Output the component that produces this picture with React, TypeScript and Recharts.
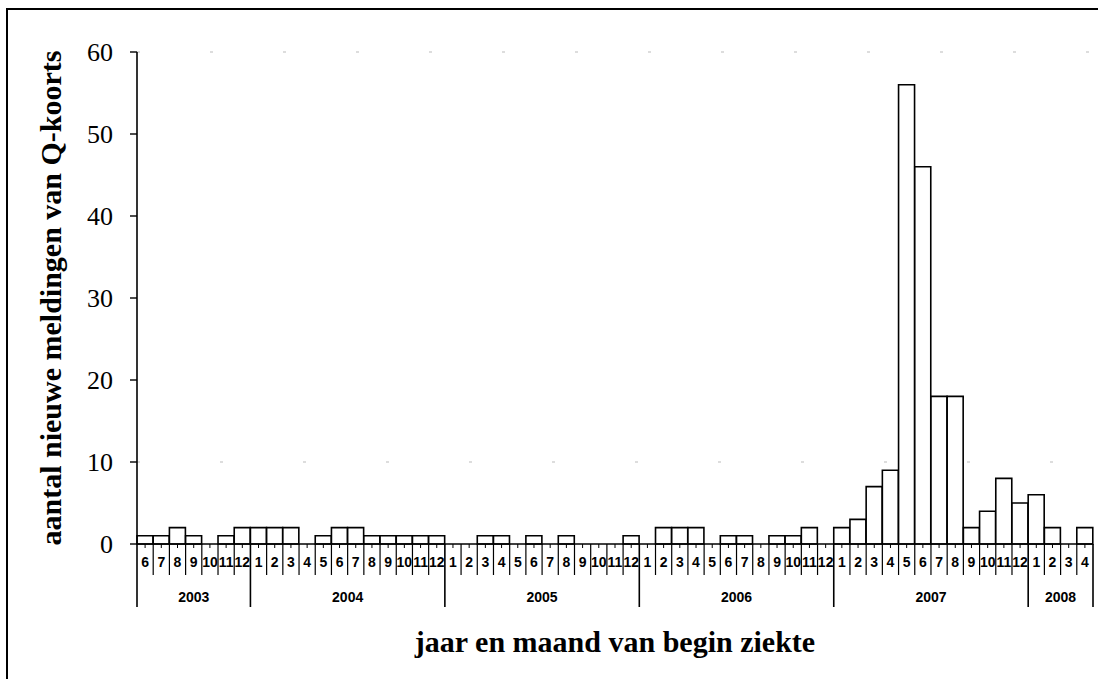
import { Bar, BarChart, Label, ReferenceLine, XAxis, YAxis } from "recharts"

const years = [2003, 2004, 2005, 2006, 2007, 2008]
const firstMonth = [6, 1, 1, 1, 1, 1]
const lastMonth = [12, 12, 12, 12, 12, 4]

const counts2003 = [1, 1, 2, 1, 0, 1, 2]
const counts2004 = [2, 2, 2, 0, 1, 2, 2, 1, 1, 1, 1, 1]
const counts2005 = [0, 0, 1, 1, 0, 1, 0, 1, 0, 0, 0, 1]
const counts2006 = [0, 2, 2, 2, 0, 1, 1, 0, 1, 1, 2, 0]
const counts2007 = [2, 3, 7, 9, 56, 46, 18, 18, 2, 4, 8, 5]
const counts2008 = [6, 2, 0, 2]
const countsByYear = [counts2003, counts2004, counts2005, counts2006, counts2007, counts2008]

const yTicks = [0, 10, 20, 30, 40, 50, 60]

const W = 1098
const H = 679
const AXIS_X = 137
const AXIS_Y = 544
const RIGHT = 5
const BOTTOM = 45
const BAND = (W - AXIS_X - RIGHT) / countsByYear.reduce((n, c) => n + c.length, 0)

interface MonthRow {
  key: string
  year: number
  month: number
  count: number
  first: boolean
  span: number
}

const data: MonthRow[] = years.flatMap((year, yi) =>
  countsByYear[yi].map((count, i) => ({
    key: `${year}-${firstMonth[yi] + i}`,
    year,
    month: firstMonth[yi] + i,
    count,
    first: i === 0,
    span: lastMonth[yi] - firstMonth[yi] + 1,
  }))
)
const byKey = new Map(data.map((d) => [d.key, d]))

const labelFont = "'Liberation Sans Narrow', 'Liberation Sans', Arial, sans-serif"
const serif = "'Liberation Serif', 'Times New Roman', serif"

function MonthTick(props: any) {
  const { x, payload } = props
  const d = byKey.get(payload.value)
  if (!d) return null
  const left = x - BAND / 2
  const isLast = d.key === data[data.length - 1].key
  return (
    <g>
      <line x1={x} x2={x} y1={AXIS_Y} y2={AXIS_Y + 4} stroke="#000" strokeWidth={1} />
      <line x1={left} x2={left} y1={AXIS_Y} y2={AXIS_Y + (d.first ? 63 : 31)} stroke="#000" strokeWidth={d.first ? 1.6 : 1.2} />
      {isLast && <line x1={x + BAND / 2} x2={x + BAND / 2} y1={AXIS_Y} y2={AXIS_Y + 63} stroke="#000" strokeWidth={1.6} />}
      <text x={x} y={AXIS_Y + 23} textAnchor="middle" fontSize={14} fontWeight="bold" fontFamily={labelFont} fill="#000">
        {d.month}
      </text>
      {d.first && (
        <text x={left + (d.span * BAND) / 2} y={AXIS_Y + 58} textAnchor="middle" fontSize={14} fontWeight="bold" fontFamily={labelFont} fill="#000">
          {d.year}
        </text>
      )}
    </g>
  )
}

export default function App() {
  return (
    <div style={{ position: "absolute", left: 0, top: 0, width: W, height: H, background: "#fff" }}>
      <div style={{ position: "absolute", left: 6, top: 8, right: 0, bottom: 0, borderLeft: "2px solid #000", borderTop: "2px solid #000" }} />
      <BarChart
        width={W}
        height={H}
        data={data}
        margin={{ top: 52, right: RIGHT, bottom: BOTTOM, left: 0 }}
        barCategoryGap={0}
        barGap={0}
        style={{ position: "absolute", left: 0, top: 0 }}
      >
        <ReferenceLine y={60} stroke="#bbb" strokeDasharray="3 70" />
        <ReferenceLine y={10} stroke="#bbb" strokeDasharray="3 80" />
        <XAxis
          dataKey="key"
          interval={0}
          height={H - BOTTOM - AXIS_Y}
          tickLine={false}
          axisLine={{ stroke: "#000", strokeWidth: 1.6 }}
          tick={<MonthTick />}
        >
          <Label
            content={() => (
              <text x={(AXIS_X + W - RIGHT) / 2} y={652} textAnchor="middle" fontSize={30} fontWeight="bold" fontFamily={serif} fill="#000">
                jaar en maand van begin ziekte
              </text>
            )}
          />
        </XAxis>
        <YAxis
          width={AXIS_X}
          domain={[0, 60]}
          ticks={yTicks}
          interval={0}
          tickSize={7}
          tickMargin={17}
          axisLine={{ stroke: "#000", strokeWidth: 1.6 }}
          tickLine={{ stroke: "#000", strokeWidth: 1.4 }}
          tick={{ fontSize: 26, fill: "#000", fontFamily: serif }}
        >
          <Label
            content={() => (
              <text
                x={0}
                y={0}
                transform={`translate(61, ${(52 + AXIS_Y) / 2}) rotate(-90)`}
                textAnchor="middle"
                fontSize={30}
                fontWeight="bold"
                fontFamily={serif}
                fill="#000"
              >
                aantal nieuwe meldingen van Q-koorts
              </text>
            )}
          />
        </YAxis>
        <Bar dataKey="count" fill="#fff" stroke="#000" strokeWidth={1.6} isAnimationActive={false} />
      </BarChart>
    </div>
  )
}
